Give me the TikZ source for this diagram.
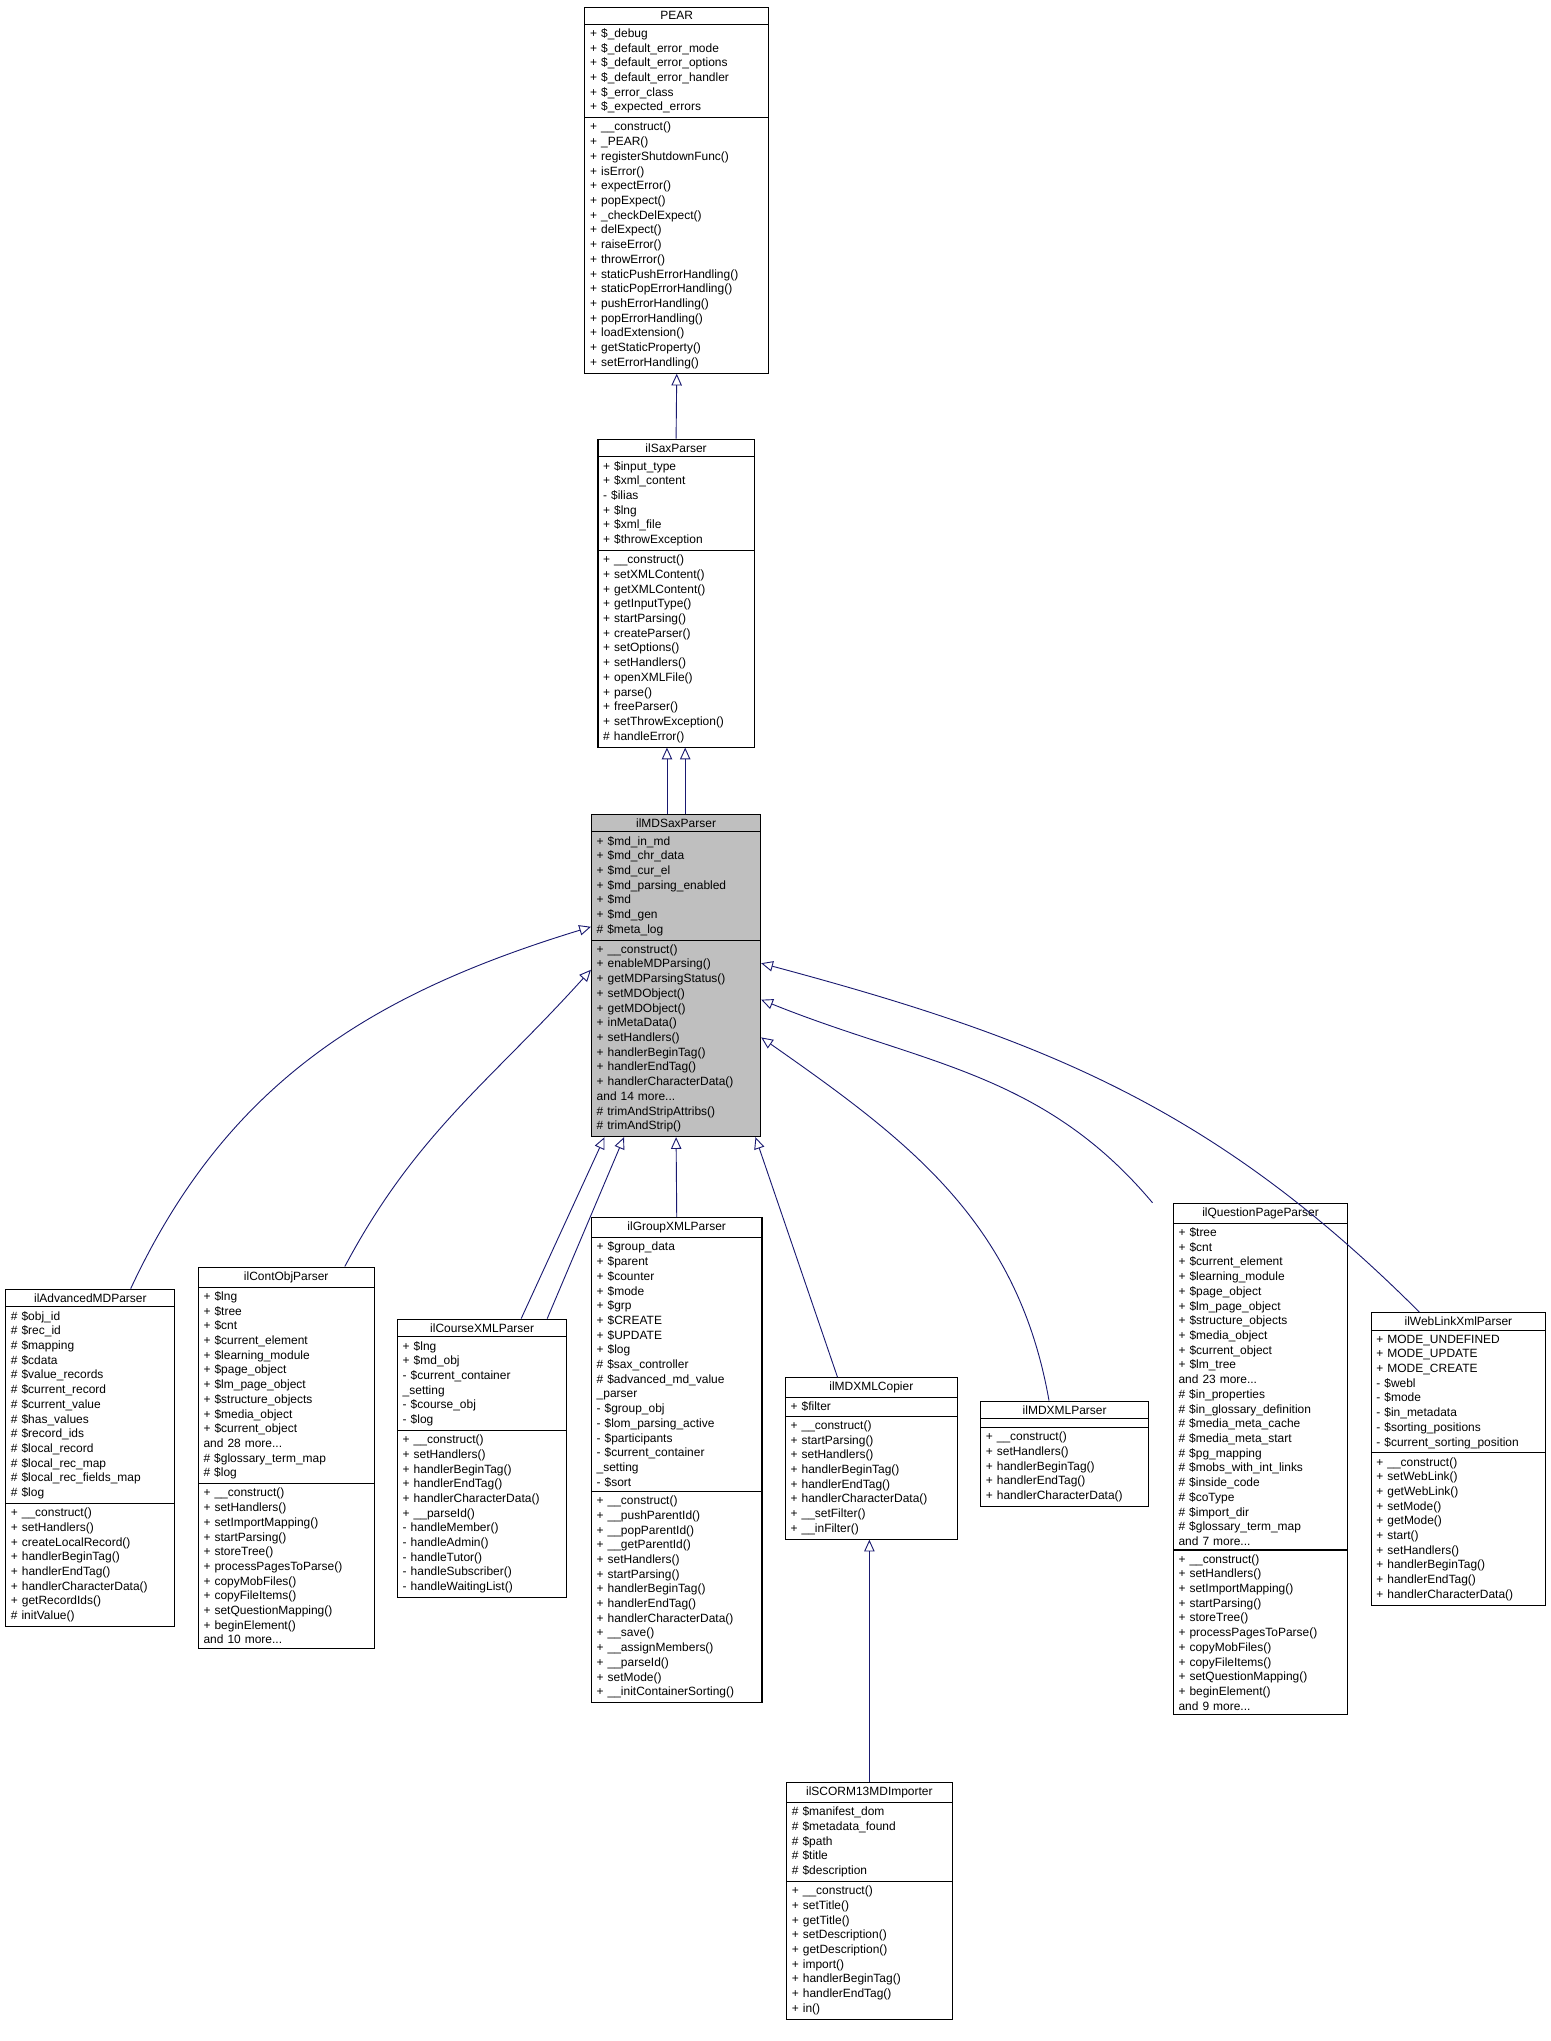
\documentclass[tikz,border=0pt]{standalone}
\usepackage{fontspec}
\setmainfont{Liberation Sans}
\usetikzlibrary{shapes.multipart,arrows.meta}
\definecolor{edgeblue}{HTML}{191970}
\tikzset{
  cls/.style={rectangle split, rectangle split parts=3, draw=black, line width=0.8pt,
    anchor=north west, inner xsep=4pt, inner ysep=3pt, align=left,
    font=\fontsize{9.2}{11.3}\selectfont, text width=#1-8pt},
  cls/.default=130pt,
  inh/.style={draw=edgeblue, line width=0.7pt, -{Triangle[open,length=9pt,width=8pt]}}
}
\newcommand{\ctitle}[1]{\centering #1\par}
\begin{document}
\begin{tikzpicture}[x=1pt,y=1pt]
\useasboundingbox (0,0) rectangle (1191,-1568);
%--- base classes ---
\node[cls=141pt] (pear) at (449,-5) {\ctitle{PEAR}
\nodepart{two}+ \$\_debug\\+ \$\_default\_error\_mode\\+ \$\_default\_error\_options\\+ \$\_default\_error\_handler\\+ \$\_error\_class\\+ \$\_expected\_errors
\nodepart{three}+ \_\_construct()\\+ \_PEAR()\\+ registerShutdownFunc()\\+ isError()\\+ expectError()\\+ popExpect()\\+ \_checkDelExpect()\\+ delExpect()\\+ raiseError()\\+ throwError()\\+ staticPushErrorHandling()\\+ staticPopErrorHandling()\\+ pushErrorHandling()\\+ popErrorHandling()\\+ loadExtension()\\+ getStaticProperty()\\+ setErrorHandling()};
\node[cls=120pt] (sax) at (459,-337) {\ctitle{ilSaxParser}
\nodepart{two}+ \$input\_type\\+ \$xml\_content\\- \$ilias\\+ \$lng\\+ \$xml\_file\\+ \$throwException
\nodepart{three}+ \_\_construct()\\+ setXMLContent()\\+ getXMLContent()\\+ getInputType()\\+ startParsing()\\+ createParser()\\+ setOptions()\\+ setHandlers()\\+ openXMLFile()\\+ parse()\\+ freeParser()\\+ setThrowException()\\\# handleError()};
\node[cls=130pt, fill=black!25] (md) at (454,-625) {\ctitle{ilMDSaxParser}
\nodepart{two}+ \$md\_in\_md\\+ \$md\_chr\_data\\+ \$md\_cur\_el\\+ \$md\_parsing\_enabled\\+ \$md\\+ \$md\_gen\\\# \$meta\_log
\nodepart{three}+ \_\_construct()\\+ enableMDParsing()\\+ getMDParsingStatus()\\+ setMDObject()\\+ getMDObject()\\+ inMetaData()\\+ setHandlers()\\+ handlerBeginTag()\\+ handlerEndTag()\\+ handlerCharacterData()\\and 14 more...\\\# trimAndStripAttribs()\\\# trimAndStrip()};
%--- derived classes ---
\node[cls=130pt] (adv) at (4,-990) {\ctitle{ilAdvancedMDParser}
\nodepart{two}\# \$obj\_id\\\# \$rec\_id\\\# \$mapping\\\# \$cdata\\\# \$value\_records\\\# \$current\_record\\\# \$current\_value\\\# \$has\_values\\\# \$record\_ids\\\# \$local\_record\\\# \$local\_rec\_map\\\# \$local\_rec\_fields\_map\\\# \$log
\nodepart{three}+ \_\_construct()\\+ setHandlers()\\+ createLocalRecord()\\+ handlerBeginTag()\\+ handlerEndTag()\\+ handlerCharacterData()\\+ getRecordIds()\\\# initValue()};
\node[cls=135pt] (cont) at (152,-973) {\ctitle{ilContObjParser}
\nodepart{two}+ \$lng\\+ \$tree\\+ \$cnt\\+ \$current\_element\\+ \$learning\_module\\+ \$page\_object\\+ \$lm\_page\_object\\+ \$structure\_objects\\+ \$media\_object\\+ \$current\_object\\and 28 more...\\\# \$glossary\_term\_map\\\# \$log
\nodepart{three}+ \_\_construct()\\+ setHandlers()\\+ setImportMapping()\\+ startParsing()\\+ storeTree()\\+ processPagesToParse()\\+ copyMobFiles()\\+ copyFileItems()\\+ setQuestionMapping()\\+ beginElement()\\and 10 more...};
\node[cls=130pt] (course) at (305,-1013) {\ctitle{ilCourseXMLParser}
\nodepart{two}+ \$lng\\+ \$md\_obj\\- \$current\_container\\\_setting\\- \$course\_obj\\- \$log
\nodepart{three}+ \_\_construct()\\+ setHandlers()\\+ handlerBeginTag()\\+ handlerEndTag()\\+ handlerCharacterData()\\+ \_\_parseId()\\- handleMember()\\- handleAdmin()\\- handleTutor()\\- handleSubscriber()\\- handleWaitingList()};
\node[cls=131pt] (group) at (454,-935) {\ctitle{ilGroupXMLParser}
\nodepart{two}+ \$group\_data\\+ \$parent\\+ \$counter\\+ \$mode\\+ \$grp\\+ \$CREATE\\+ \$UPDATE\\+ \$log\\\# \$sax\_controller\\\# \$advanced\_md\_value\\\_parser\\- \$group\_obj\\- \$lom\_parsing\_active\\- \$participants\\- \$current\_container\\\_setting\\- \$sort
\nodepart{three}+ \_\_construct()\\+ \_\_pushParentId()\\+ \_\_popParentId()\\+ \_\_getParentId()\\+ setHandlers()\\+ startParsing()\\+ handlerBeginTag()\\+ handlerEndTag()\\+ handlerCharacterData()\\+ \_\_save()\\+ \_\_assignMembers()\\+ \_\_parseId()\\+ setMode()\\+ \_\_initContainerSorting()};
\node[cls=132pt] (copier) at (603,-1058) {\ctitle{ilMDXMLCopier}
\nodepart{two}+ \$filter
\nodepart{three}+ \_\_construct()\\+ startParsing()\\+ setHandlers()\\+ handlerBeginTag()\\+ handlerEndTag()\\+ handlerCharacterData()\\+ \_\_setFilter()\\+ \_\_inFilter()};
\node[cls=129pt] (mdxml) at (753,-1076) {\ctitle{ilMDXMLParser}
\nodepart{two}\mbox{}
\nodepart{three}+ \_\_construct()\\+ setHandlers()\\+ handlerBeginTag()\\+ handlerEndTag()\\+ handlerCharacterData()};
\node[cls=134pt] (quest) at (901,-924) {\ctitle{ilQuestionPageParser}
\nodepart{two}+ \$tree\\+ \$cnt\\+ \$current\_element\\+ \$learning\_module\\+ \$page\_object\\+ \$lm\_page\_object\\+ \$structure\_objects\\+ \$media\_object\\+ \$current\_object\\+ \$lm\_tree\\and 23 more...\\\# \$in\_properties\\\# \$in\_glossary\_definition\\\# \$media\_meta\_cache\\\# \$media\_meta\_start\\\# \$pg\_mapping\\\# \$mobs\_with\_int\_links\\\# \$inside\_code\\\# \$coType\\\# \$import\_dir\\\# \$glossary\_term\_map\\and 7 more...
\nodepart{three}+ \_\_construct()\\+ setHandlers()\\+ setImportMapping()\\+ startParsing()\\+ storeTree()\\+ processPagesToParse()\\+ copyMobFiles()\\+ copyFileItems()\\+ setQuestionMapping()\\+ beginElement()\\and 9 more...};
\node[cls=134pt] (web) at (1053,-1008) {\ctitle{ilWebLinkXmlParser}
\nodepart{two}+ MODE\_UNDEFINED\\+ MODE\_UPDATE\\+ MODE\_CREATE\\- \$webl\\- \$mode\\- \$in\_metadata\\- \$sorting\_positions\\- \$current\_sorting\_position
\nodepart{three}+ \_\_construct()\\+ setWebLink()\\+ getWebLink()\\+ setMode()\\+ getMode()\\+ start()\\+ setHandlers()\\+ handlerBeginTag()\\+ handlerEndTag()\\+ handlerCharacterData()};
\node[cls=127pt] (scorm) at (604,-1369) {\ctitle{ilSCORM13MDImporter}
\nodepart{two}\# \$manifest\_dom\\\# \$metadata\_found\\\# \$path\\\# \$title\\\# \$description
\nodepart{three}+ \_\_construct()\\+ setTitle()\\+ getTitle()\\+ setDescription()\\+ getDescription()\\+ import()\\+ handlerBeginTag()\\+ handlerEndTag()\\+ in()};
%--- inheritance ---
\draw[inh] (sax.north) -- (pear.south);
\draw[inh] ([xshift=-7pt]md.north) -- ([xshift=-7pt]sax.south);
\draw[inh] ([xshift=7pt]md.north) -- ([xshift=7pt]sax.south);
\draw[inh] ([xshift=31pt]adv.north) to[out=65,in=197] ([yshift=-87pt]md.north west);
\draw[inh] ([xshift=45pt]cont.north) to[out=62,in=228] ([yshift=-120pt]md.north west);
\draw[inh] ([xshift=30pt]course.north) -- ([xshift=-55pt]md.south);
\draw[inh] ([xshift=50pt]course.north) -- ([xshift=-40pt]md.south);
\draw[inh] (group.north) -- (md.south);
\draw[inh] ([xshift=-26pt]copier.north) -- ([xshift=61pt]md.south);
\draw[inh] ([xshift=-12pt]mdxml.north) to[out=100,in=-35] ([yshift=-172pt]md.north east);
\draw[inh] ([xshift=-83pt]quest.north) to[out=130,in=-22] ([yshift=-143pt]md.north east);
\draw[inh] ([xshift=-30pt]web.north) to[out=135,in=-15] ([yshift=-115pt]md.north east);
\draw[inh] (scorm.north) -- (scorm.north |- copier.south);
\end{tikzpicture}
\end{document}
